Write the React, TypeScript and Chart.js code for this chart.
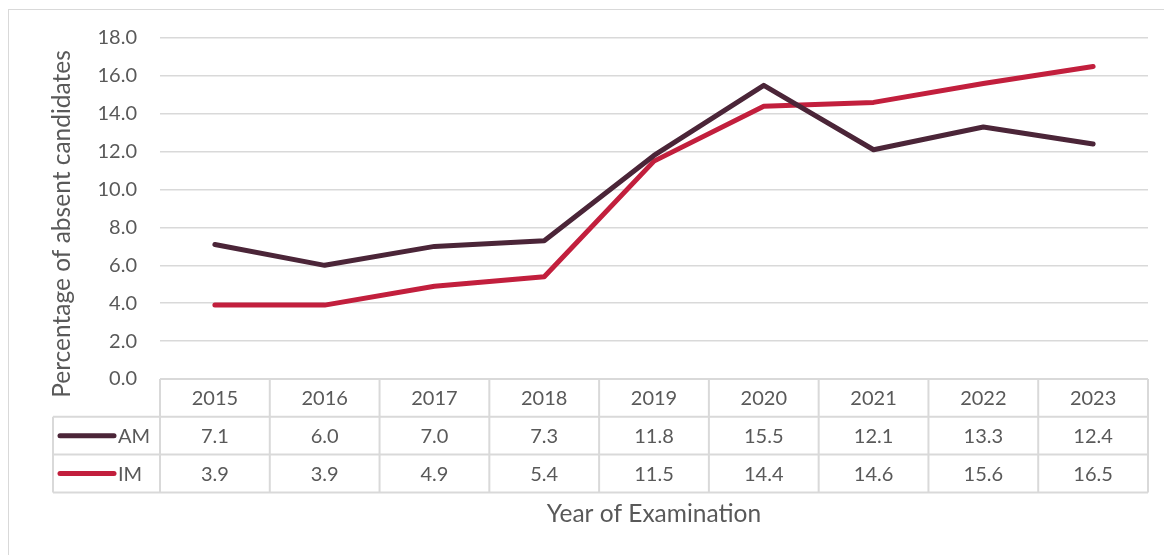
import React, { useEffect, useRef } from 'react';
import Chart from 'chart.js/auto';

const years = ['2015', '2016', '2017', '2018', '2019', '2020', '2021', '2022', '2023'];
const amValues = [7.1, 6.0, 7.0, 7.3, 11.8, 15.5, 12.1, 13.3, 12.4];
const imValues = [3.9, 3.9, 4.9, 5.4, 11.5, 14.4, 14.6, 15.6, 16.5];
const seriesNames = ['AM', 'IM'];
const seriesColors = ['#4b2538', '#c21f3d'];
const yMin = 0;
const yMax = 18;
const yStep = 2;
const yTitle = 'Percentage of absent candidates';
const xTitle = 'Year of Examination';

const FONT = 'Lato, "Open Sans", sans-serif';
const TEXT = '#595959';
const GRID = '#d9d9d9';

export default function App() {
  const ref = useRef<HTMLCanvasElement | null>(null);

  useEffect(() => {
    if (!ref.current) return;
    const series = [amValues, imValues];

    const tablePlugin = {
      id: 'dataTable',
      afterDraw(chart: any) {
        const ctx = chart.ctx as CanvasRenderingContext2D;
        const xs = chart.scales.x;
        const area = chart.chartArea;
        const rowH = 37.8;
        const top = area.bottom;
        const legendLeft = 45;
        const n = years.length;
        const edges: number[] = [area.left];
        for (let i = 1; i < n; i++) {
          edges.push((xs.getPixelForValue(i - 1) + xs.getPixelForValue(i)) / 2);
        }
        edges.push(area.right);

        ctx.save();
        ctx.strokeStyle = GRID;
        ctx.lineWidth = 2;
        ctx.beginPath();
        ctx.moveTo(area.left, top);
        ctx.lineTo(area.right, top);
        for (let r = 1; r <= 3; r++) {
          const y = top + rowH * r;
          ctx.moveTo(legendLeft, y);
          ctx.lineTo(area.right, y);
        }
        for (const e of edges) {
          ctx.moveTo(e, top);
          ctx.lineTo(e, top + rowH * 3);
        }
        ctx.moveTo(legendLeft, top + rowH);
        ctx.lineTo(legendLeft, top + rowH * 3);
        ctx.stroke();

        ctx.fillStyle = TEXT;
        ctx.font = `20px ${FONT}`;
        ctx.textAlign = 'center';
        ctx.textBaseline = 'middle';
        years.forEach((yr, i) => {
          const cx = xs.getPixelForValue(i);
          ctx.fillText(yr, cx, top + rowH * 0.5 + 1);
          series.forEach((vals, s) => {
            ctx.fillText(vals[i].toFixed(1), cx, top + rowH * (s + 1.5) + 1);
          });
        });

        seriesNames.forEach((name, s) => {
          const cy = top + rowH * (s + 1.5);
          ctx.strokeStyle = seriesColors[s];
          ctx.lineWidth = 5;
          ctx.lineCap = 'round';
          ctx.beginPath();
          ctx.moveTo(52, cy);
          ctx.lineTo(106, cy);
          ctx.stroke();
          ctx.fillStyle = TEXT;
          ctx.textAlign = 'left';
          ctx.fillText(name, 110, cy + 1);
        });

        ctx.font = `24.5px ${FONT}`;
        ctx.textAlign = 'center';
        ctx.fillText(xTitle, (area.left + area.right) / 2, 506);
        ctx.translate(54, 216);
        ctx.rotate(-Math.PI / 2);
        ctx.fillText(yTitle, 0, 0);
        ctx.restore();
      },
    };

    const chart = new Chart(ref.current, {
      type: 'line',
      data: {
        labels: years,
        datasets: seriesNames.map((name, s) => ({
          label: name,
          data: series[s],
          borderColor: seriesColors[s],
          backgroundColor: seriesColors[s],
          borderWidth: 5,
          borderCapStyle: 'round' as const,
          borderJoinStyle: 'round' as const,
          pointRadius: 0,
          pointHoverRadius: 0,
          tension: 0,
        })),
      },
      options: {
        animation: false,
        responsive: false,
        maintainAspectRatio: false,
        layout: { padding: { left: 0, top: 30, right: 16, bottom: 176 } },
        plugins: { legend: { display: false }, tooltip: { enabled: false } },
        scales: {
          x: { display: false, offset: true },
          y: {
            min: yMin,
            max: yMax,
            border: { display: false },
            grid: { color: GRID, lineWidth: 1.5, drawTicks: false },
            ticks: {
              stepSize: yStep,
              padding: 23,
              color: TEXT,
              font: { family: FONT, size: 20 },
              callback: (v: any) => Number(v).toFixed(1),
            },
            afterFit: (s: any) => {
              s.width = 152;
              s.paddingTop = 10;
              s.paddingBottom = 10;
            },
          },
        },
      },
      plugins: [tablePlugin],
    });
    return () => chart.destroy();
  }, []);

  return (
    <div style={{ position: 'relative', width: 1156, height: 547 }}>
      <div
        style={{
          position: 'absolute',
          left: 0,
          top: 1,
          width: 1156,
          height: 546,
          borderLeft: '1px solid #d9d9d9',
          borderTop: '1px solid #d9d9d9',
          boxSizing: 'border-box',
        }}
      />
      <canvas ref={ref} width={1156} height={547} style={{ position: 'absolute', left: 0, top: 0 }} />
    </div>
  );
}
